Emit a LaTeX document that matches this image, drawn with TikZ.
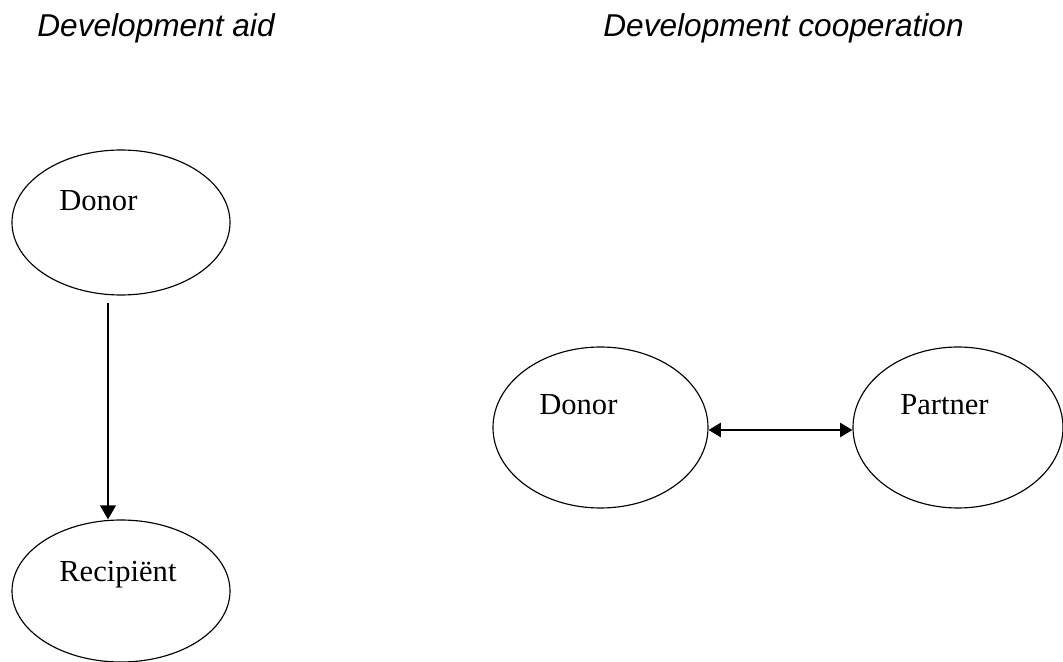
\documentclass[tikz,border=0pt]{standalone}
\usepackage{fontspec}
\setmainfont{Liberation Serif}
\setsansfont{Liberation Sans}
\usepackage{tikz}
\usetikzlibrary{shapes.geometric}
\usetikzlibrary{arrows.meta}

\begin{document}
\begin{tikzpicture}[x=0.02cm,y=-0.02cm,
        party/.style={draw,ellipse,line width=0.65pt,inner sep=0pt},
        partytext/.style={anchor=base west,inner sep=0pt,font=\fontsize{17.4}{20}\selectfont},
        title/.style={anchor=base west,inner sep=0pt,font=\fontsize{18}{21}\sffamily\itshape},
        flow/.style={line width=0.9pt,-{Triangle[length=8pt,width=9pt]}},
        mutual/.style={line width=1.3pt,{Triangle[length=7pt,width=8pt]}-{Triangle[length=7pt,width=8pt]}}]
        \useasboundingbox (0,0) rectangle (1063,662);

        \node[title] (aidtitle) at (37,37) {Development aid};
        \node[title] (cooptitle) at (603,37) {Development cooperation};

        % aid: one way
        \node[party,minimum width=218*0.02cm,minimum height=145*0.02cm] (donorA) at (121,222.5) {};
        \node[party,minimum width=218*0.02cm,minimum height=142*0.02cm] (recip) at (121,591) {};
        \node[partytext] (donorAtext) at (59,211) {Donor};
        \node[partytext] (reciptext) at (59,582) {Recipiënt};
        \coordinate (aidstart) at (108,303);
        \draw[flow] (aidstart) -- (aidstart |- recip.north);

        % cooperation: both ways
        \node[party,minimum width=215*0.02cm,minimum height=161*0.02cm] (donorB) at (600.5,427.5) {};
        \node[party,minimum width=210*0.02cm,minimum height=161*0.02cm] (partner) at (958,427.5) {};
        \node[partytext] (donorBtext) at (539,415) {Donor};
        \node[partytext] (partnertext) at (900,415) {Partner};
        \draw[mutual] ([yshift=-2.5*0.02cm]donorB.east) -- ([yshift=-2.5*0.02cm]partner.west);
\end{tikzpicture}
\end{document}
